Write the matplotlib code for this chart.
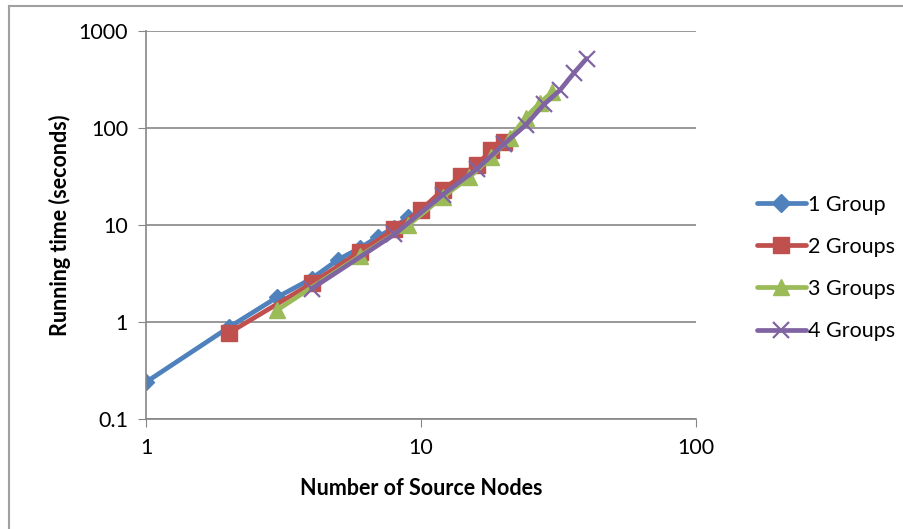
import matplotlib
matplotlib.use("Agg")
import matplotlib.pyplot as plt
from matplotlib.lines import Line2D

# Running time of the solver versus number of source nodes, per group count
series_names = ["1 Group", "2 Groups", "3 Groups", "4 Groups"]

x_1group = [1, 2, 3, 4, 5, 6, 7, 8, 9]
y_1group = [0.24, 0.88, 1.8, 2.8, 4.4, 5.8, 7.6, 9.4, 12.2]

x_2groups = [2, 4, 6, 8, 10, 12, 14, 16, 18, 20]
y_2groups = [0.77, 2.5, 5.3, 9.0, 14.3, 23, 32, 42, 59, 72]

x_3groups = [3, 6, 9, 12, 15, 18, 21, 24, 27, 30]
y_3groups = [1.33, 4.8, 10.0, 19.5, 31, 50, 78, 128, 180, 235]

x_4groups = [4, 8, 12, 16, 20, 24, 28, 32, 36, 40]
y_4groups = [2.2, 8.0, 20.5, 38, 68, 107, 175, 245, 370, 520]

x_ticks = [1, 10, 100]
x_ticklabels = ["1", "10", "100"]
y_ticks = [0.1, 1, 10, 100, 1000]
y_ticklabels = ["0.1", "1", "10", "100", "1000"]

colors = ["#4F81BD", "#C0504D", "#9BBB59", "#8064A2"]
markers = ["D", "s", "^", "x"]
msizes = [8.5, 11, 11, 11]

plt.rcParams["font.family"] = ["Lato", "DejaVu Sans"]

W, H = 904, 529
fig = plt.figure(figsize=(W / 100, H / 100), dpi=100)

# chart outline (left and top edges inside the canvas)
x0, y0 = 8.5 / W, 1 - 5.5 / H
fig.lines.append(Line2D([x0, x0], [0, y0], transform=fig.transFigure,
                        color="#A0A0A0", linewidth=1.5))
fig.lines.append(Line2D([x0, 1], [y0, y0], transform=fig.transFigure,
                        color="#A0A0A0", linewidth=1.5))

left, right, top, bottom = 146, 696, 31, 419
ax = fig.add_axes([left / W, 1 - bottom / H, (right - left) / W, (bottom - top) / H])

xs = [x_1group, x_2groups, x_3groups, x_4groups]
ys = [y_1group, y_2groups, y_3groups, y_4groups]
for i in range(4):
    kw = dict(color=colors[i], linewidth=3.4, marker=markers[i],
              markersize=msizes[i], label=series_names[i], solid_capstyle="round")
    if markers[i] == "x":
        kw["markeredgewidth"] = 1.6
    ax.plot(xs[i], ys[i], **kw)

ax.set_xscale("log")
ax.set_yscale("log")
ax.set_xlim(1, 100)
ax.set_ylim(0.1, 1000)
ax.set_xticks(x_ticks)
ax.set_xticklabels(x_ticklabels)
ax.set_yticks(y_ticks)
ax.set_yticklabels(y_ticklabels)
ax.minorticks_off()
ax.tick_params(axis="both", which="major", direction="out", length=6,
               color="#868686", labelsize=15.5, pad=7)
ax.tick_params(axis="x", length=6, pad=8)

ax.grid(axis="y", color="#868686", linewidth=1.2)
ax.set_axisbelow(True)
for s in ["top", "right"]:
    ax.spines[s].set_visible(False)
for s in ["left", "bottom"]:
    ax.spines[s].set_color("#868686")
    ax.spines[s].set_linewidth(1.2)

ax.set_xlabel("Number of Source Nodes", fontsize=15.5, fontweight="bold", labelpad=14)
ax.set_ylabel("Running time (seconds)", fontsize=15.5, fontweight="bold", labelpad=5)

leg = fig.legend(loc="upper left", bbox_to_anchor=(748 / W, 1 - 186 / H),
                 frameon=False, fontsize=15.5, handlelength=2.3, markerscale=1.1,
                 labelspacing=1.03, handletextpad=0.1, borderaxespad=0)

fig.savefig("out.png", dpi=100)
